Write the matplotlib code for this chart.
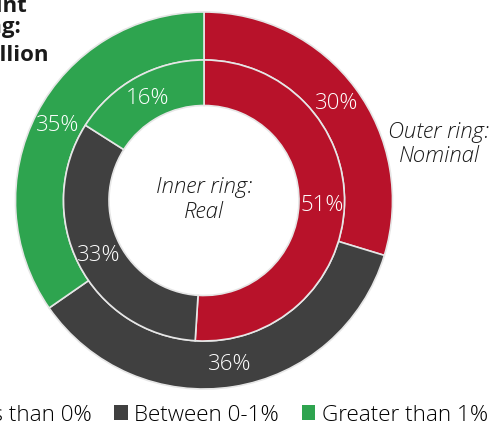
import matplotlib
matplotlib.use("Agg")
import matplotlib.pyplot as plt
from matplotlib.patches import Patch

plt.rcParams['font.family'] = ['Open Sans', 'DejaVu Sans']
plt.rcParams['font.weight'] = 'light'

# data
categories = ['Less than 0%', 'Between 0-1%', 'Greater than 1%']
outer_nominal = [30, 36, 35]
inner_real = [51, 33, 16]
colors = ['#B8122A', '#404040', '#2EA44F']

W, H = 504, 427
fig = plt.figure(figsize=(W / 100, H / 100), dpi=100)
ax = fig.add_axes([0, 0, 1, 1])

cx, cy = 204, 225.5
r_out, r_mid, r_in = 188.5, 140.5, 95

wedge_kw = dict(edgecolor='#e6e6e6', linewidth=1.2)
txt_kw = dict(color='white', fontsize=16)

ax.pie(outer_nominal, colors=colors, startangle=90, counterclock=False,
       center=(cx, cy), radius=r_out, autopct='%.0f%%', pctdistance=0.875,
       wedgeprops=dict(width=r_out - r_mid, **wedge_kw), textprops=txt_kw,
       frame=True)
ax.pie(inner_real, colors=colors, startangle=90, counterclock=False,
       center=(cx, cy), radius=r_mid, autopct='%.0f%%', pctdistance=0.84,
       wedgeprops=dict(width=r_mid - r_in, **wedge_kw), textprops=txt_kw,
       frame=True)
ax.set_xlim(0, W)
ax.set_ylim(0, H)
ax.set_aspect('equal')
ax.axis('off')

ax.text(cx, cy + 2, 'Inner ring:\nReal', ha='center', va='center',
        fontsize=16, style='italic', color='#1a1a1a', linespacing=1.15)
ax.text(439, H - 144, 'Outer ring:\nNominal', ha='center', va='center',
        fontsize=16, style='italic', color='#1a1a1a', linespacing=1.15)

# title block, cut off at the left edge like the source
title_kw = dict(ha='right', va='baseline', fontsize=16, fontweight='bold',
                color='#1a1a1a')
ax.text(27, H - 12, 'Amount', **title_kw)
ax.text(21, H - 33, 'in ring:', **title_kw)
ax.text(48, H - 61, '$ billion', **title_kw)

handles = [Patch(facecolor=c, edgecolor='none') for c in colors]
fig.legend(handles, categories, loc='center right', ncol=3, frameon=False,
           bbox_to_anchor=(488 / W, 1 - 416 / H), fontsize=16.2,
           handlelength=0.6, handleheight=0.6, handletextpad=0.3,
           columnspacing=1.0, borderaxespad=0, borderpad=0)

fig.savefig('out.png', dpi=100)
